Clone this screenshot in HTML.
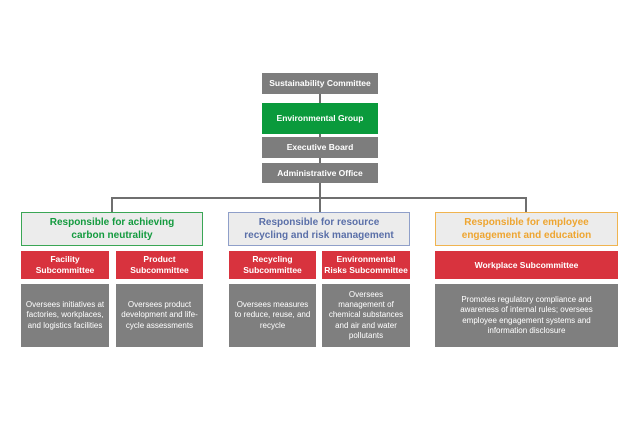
<!DOCTYPE html>
<html><head><style>
body{margin:0;width:637px;height:426px;background:#fff;position:relative;font-family:"Liberation Sans",sans-serif;overflow:hidden}
.b{position:absolute;display:flex;align-items:center;justify-content:center;text-align:center;color:#fff;font-weight:bold;font-size:8.5px;line-height:1.25;box-sizing:border-box}
.g{background:#7d7d7d}
.r{background:#d8333e}
.d{background:#7f7f7f;font-weight:normal;font-size:8px;line-height:1.3;padding:0 4px}
.h{background:#ececec;border:1.5px solid;font-size:10px;line-height:1.3}
.l{position:absolute;background:#6f6f6f}
</style></head><body>
<div class="l" style="left:319px;top:94px;width:2px;height:104px"></div>
<div class="l" style="left:112px;top:197px;width:414px;height:2px"></div>
<div class="l" style="left:111px;top:197px;width:2px;height:15px"></div>
<div class="l" style="left:319px;top:197px;width:2px;height:15px"></div>
<div class="l" style="left:525px;top:197px;width:2px;height:15px"></div>
<div class="b g" style="left:262px;top:73px;width:116px;height:21px">Sustainability Committee</div>
<div class="b" style="left:262px;top:103px;width:116px;height:31px;background:#0a9a3c">Environmental Group</div>
<div class="b g" style="left:262px;top:137px;width:116px;height:21px">Executive Board</div>
<div class="b g" style="left:262px;top:163px;width:116px;height:20px">Administrative Office</div>
<div class="b h" style="left:21px;top:212px;width:182px;height:34px;border-color:#3aa655;color:#139a3e">Responsible for achieving<br>carbon neutrality</div>
<div class="b h" style="left:228px;top:212px;width:182px;height:34px;border-color:#8f9fc9;color:#5a6fa8">Responsible for resource<br>recycling and risk management</div>
<div class="b h" style="left:435px;top:212px;width:183px;height:34px;border-color:#f0b450;color:#eea530">Responsible for employee<br>engagement and education</div>
<div class="b r" style="left:21px;top:251px;width:88px;height:28px">Facility<br>Subcommittee</div>
<div class="b r" style="left:116px;top:251px;width:87px;height:28px">Product<br>Subcommittee</div>
<div class="b r" style="left:229px;top:251px;width:87px;height:28px">Recycling<br>Subcommittee</div>
<div class="b r" style="left:322px;top:251px;width:88px;height:28px">Environmental<br>Risks Subcommittee</div>
<div class="b r" style="left:435px;top:251px;width:183px;height:28px">Workplace Subcommittee</div>
<div class="b d" style="left:21px;top:284px;width:88px;height:63px">Oversees initiatives at factories, workplaces, and logistics facilities</div>
<div class="b d" style="left:116px;top:284px;width:87px;height:63px">Oversees product development and life-cycle assessments</div>
<div class="b d" style="left:229px;top:284px;width:87px;height:63px">Oversees measures to reduce, reuse, and recycle</div>
<div class="b d" style="left:322px;top:284px;width:88px;height:63px">Oversees management of chemical substances and air and water pollutants</div>
<div class="b d" style="left:435px;top:284px;width:183px;height:63px;padding:0 14px">Promotes regulatory compliance and awareness of internal rules; oversees employee engagement systems and information disclosure</div>
</body></html>
